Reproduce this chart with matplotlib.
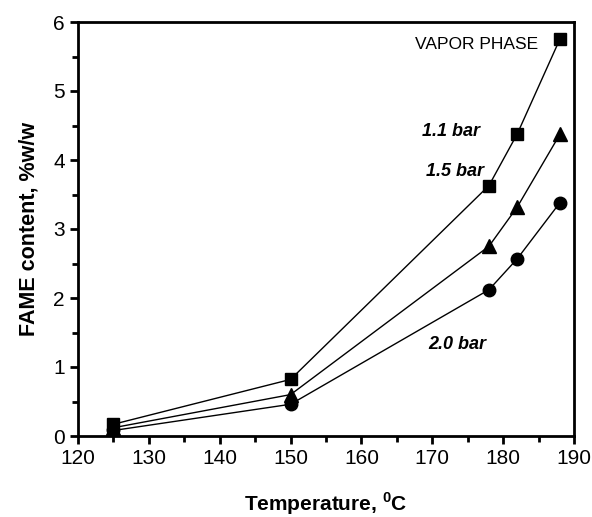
import numpy as np
import matplotlib.pyplot as plt
from matplotlib.ticker import MultipleLocator

plt.rcParams['font.family'] = ['Liberation Sans', 'DejaVu Sans']

temp_low = [125, 150, 178, 182, 188]
fame_11 = [0.17, 0.82, 3.63, 4.38, 5.75]
fame_15 = [0.12, 0.60, 2.75, 3.32, 4.37]
fame_20 = [0.08, 0.46, 2.12, 2.57, 3.38]

fig = plt.figure(figsize=(5.92, 5.17), dpi=100)
ax = fig.add_axes([78/592, 1 - 436/517, (574-78)/592, (436-22)/517])

ax.plot(temp_low, fame_11, 'k-', marker='s', ms=9, lw=1)
ax.plot(temp_low, fame_15, 'k-', marker='^', ms=10, lw=1)
ax.plot(temp_low, fame_20, 'k-', marker='o', ms=9, lw=1)

ax.text(176.2, 5.68, 'VAPOR PHASE', fontsize=12.5, ha='center', va='center')
ax.text(172.7, 4.42, '1.1 bar', fontsize=13, style='italic', weight='bold', ha='center', va='center')
ax.text(173.2, 3.83, '1.5 bar', fontsize=13, style='italic', weight='bold', ha='center', va='center')
ax.text(173.5, 1.32, '2.0 bar', fontsize=13, style='italic', weight='bold', ha='center', va='center')

ax.set_xlim(120, 190)
ax.set_ylim(0, 6)
ax.xaxis.set_major_locator(MultipleLocator(10))
ax.xaxis.set_minor_locator(MultipleLocator(5))
ax.yaxis.set_major_locator(MultipleLocator(1))
ax.yaxis.set_minor_locator(MultipleLocator(0.5))
ax.tick_params(which='major', direction='out', length=6, width=2, labelsize=15)
ax.tick_params(which='minor', direction='out', length=4, width=2)
for s in ax.spines.values():
    s.set_linewidth(2)

ax.set_xlabel('Temperature, $^{\\mathregular{0}}$C', fontsize=15, weight='bold', labelpad=16)
ax.set_ylabel('FAME content, %w/w', fontsize=15.5, weight='bold', labelpad=10)

fig.savefig('out.png', dpi=100)
